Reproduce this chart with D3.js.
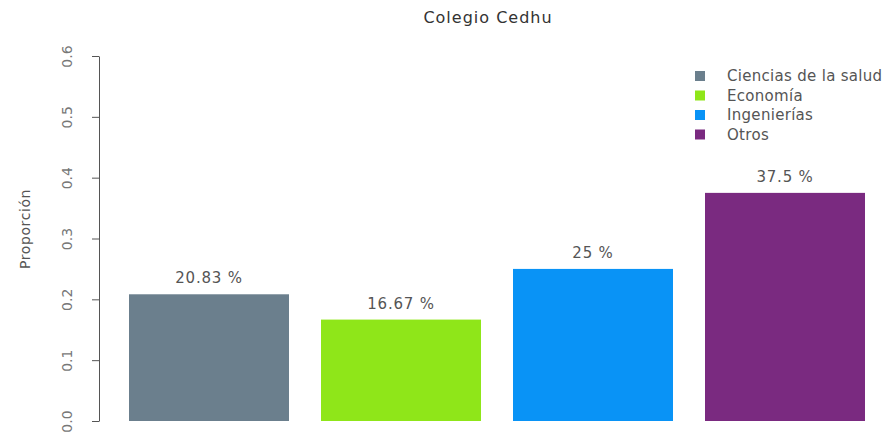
<!DOCTYPE html>
<html>
<head>
<meta charset="utf-8">
<script src="https://cdn.jsdelivr.net/npm/d3@7"></script>
<style>
  body { margin: 0; background: #fff; }
  svg text { font-family: "DejaVu Sans", sans-serif; fill: #555; }
</style>
</head>
<body>
<div id="entry"></div>
<script>
// data
var categories = ['Ciencias de la salud', 'Economía', 'Ingenierías', 'Otros'];
var proportions = [0.2083, 0.1667, 0.25, 0.375];
var barLabels = ['20.83 %', '16.67 %', '25 %', '37.5 %'];
var yTicks = [0, 0.1, 0.2, 0.3, 0.4, 0.5, 0.6];

var colors = ['#6b7f8d', '#8fe619', '#0993f6', '#7a2a80'];

var width = 890, height = 437;

var svg = d3.select('#entry').append('svg')
  .attr('width', width)
  .attr('height', height);

var x = d3.scaleBand()
  .domain(categories)
  .range([113, 881])
  .paddingInner(1 / 6)
  .paddingOuter(1 / 12);

var y = d3.scaleLinear()
  .domain([0, 0.6])
  .range([421, 56]);

// title
svg.append('text')
  .attr('x', 488)
  .attr('y', 23)
  .attr('text-anchor', 'middle')
  .style('font-size', '16px')
  .style('letter-spacing', '1px')
  .style('fill', '#333')
  .text('Colegio Cedhu');

// bars
svg.selectAll('rect.bar')
  .data(proportions)
  .enter()
  .append('rect')
  .attr('class', 'bar')
  .attr('x', function(d, i) { return x(categories[i]); })
  .attr('y', function(d) { return y(d); })
  .attr('width', x.bandwidth())
  .attr('height', function(d) { return y(0) - y(d); })
  .style('fill', function(d, i) { return colors[i]; });

// labels over bars
svg.selectAll('text.val')
  .data(proportions)
  .enter()
  .append('text')
  .attr('class', 'val')
  .attr('x', function(d, i) { return x(categories[i]) + x.bandwidth() / 2; })
  .attr('y', function(d) { return y(d) - 11; })
  .attr('text-anchor', 'middle')
  .style('font-size', '15px')
  .style('letter-spacing', '0.8px')
  .text(function(d, i) { return barLabels[i]; });

// y axis
var yAxis = d3.axisLeft(y)
  .tickValues(yTicks)
  .tickFormat(d3.format('.1f'))
  .tickSize(7)
  .tickSizeOuter(0);

var gy = svg.append('g')
  .attr('transform', 'translate(99,0)')
  .call(yAxis);

gy.select('.domain').attr('stroke', '#555');
gy.selectAll('.tick line').attr('stroke', '#555');
gy.selectAll('.tick text')
  .attr('x', null)
  .attr('dy', null)
  .attr('transform', 'translate(-27,0) rotate(-90)')
  .attr('text-anchor', 'middle')
  .style('font-size', '14px')
  .style('fill', '#777')
  .style('font-family', '"DejaVu Sans", sans-serif');

// y label
svg.append('text')
  .attr('transform', 'translate(30,229) rotate(-90)')
  .attr('text-anchor', 'middle')
  .style('font-size', '14px')
  .style('letter-spacing', '0.6px')
  .text('Proporción');

// legend
var legend = svg.selectAll('g.legend')
  .data(categories)
  .enter()
  .append('g')
  .attr('class', 'legend')
  .attr('transform', function(d, i) { return 'translate(695,' + (76 + i * 19.5) + ')'; });

legend.append('rect')
  .attr('x', 0)
  .attr('y', -5)
  .attr('width', 10)
  .attr('height', 10)
  .style('fill', function(d, i) { return colors[i]; });

legend.append('text')
  .attr('x', 32)
  .attr('y', 5)
  .style('font-size', '15px')
  .style('letter-spacing', '0.3px')
  .text(function(d) { return d; });
</script>
</body>
</html>
